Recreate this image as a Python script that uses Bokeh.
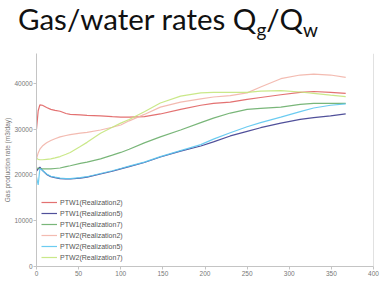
from bokeh.plotting import figure
from bokeh.models import Span, FixedTicker, Div
from bokeh.layouts import column
from bokeh.embed import file_html
from bokeh.resources import INLINE

days = [0, 2, 4, 7, 12, 17, 22, 28, 35, 40, 52, 60, 76, 90, 100, 110, 128, 147, 171, 195, 210, 230, 250, 266, 290, 313, 329, 349, 367]

ptw1_r2 = [30000, 34000, 35300, 35200, 34700, 34300, 34100, 33900, 33400, 33200, 33100, 33000, 32900, 32700, 32600, 32600, 32700, 33300, 34300, 35200, 35600, 35900, 36500, 36900, 37500, 38000, 38200, 38000, 37800]
ptw1_r5 = [20800, 21300, 21700, 21000, 20100, 19600, 19400, 19200, 19100, 19100, 19300, 19500, 20200, 20800, 21300, 21800, 22700, 23900, 25200, 26300, 27200, 28500, 29500, 30300, 31300, 32100, 32500, 32900, 33300]
ptw1_r7 = [21400, 21500, 21400, 21300, 21300, 21300, 21400, 21500, 21800, 22000, 22500, 22800, 23500, 24300, 24900, 25600, 27000, 28300, 29800, 31400, 32400, 33500, 34300, 34500, 34800, 35400, 35600, 35600, 35600]
ptw2_r2 = [23500, 24800, 25600, 26300, 27000, 27500, 27900, 28300, 28600, 28800, 29100, 29300, 29800, 30400, 30900, 31800, 33200, 34800, 35900, 36600, 37000, 37300, 37900, 39200, 41000, 41800, 42000, 41800, 41300]
ptw2_r5 = [19500, 17800, 21400, 21000, 20200, 19700, 19500, 19300, 19200, 19200, 19400, 19600, 20300, 20900, 21400, 21900, 22800, 24000, 25300, 26600, 27800, 29200, 30500, 31400, 32600, 33800, 34600, 35200, 35500]
ptw2_r7 = [23600, 23400, 23300, 23300, 23400, 23500, 23700, 24000, 24500, 24900, 26200, 27100, 29100, 30400, 31300, 32100, 33800, 35700, 37200, 37900, 38000, 38000, 38000, 38300, 38400, 38100, 37800, 37400, 37100]

series_names = ["PTW1(Realization2)", "PTW1(Realization5)", "PTW1(Realization7)",
                "PTW2(Realization2)", "PTW2(Realization5)", "PTW2(Realization7)"]
series_values = [ptw1_r2, ptw1_r5, ptw1_r7, ptw2_r2, ptw2_r5, ptw2_r7]
series_colors = ["#e06262", "#3d3d8f", "#6aae6a", "#f2b4a8", "#5cc6ef", "#c4e67c"]

x_ticks = [0, 50, 100, 150, 200, 250, 300, 350, 400]
y_ticks = [0, 10000, 20000, 30000, 40000]

title_html = ('<div style="font-family: Lato; font-size: 29.5px; color: #111111; '
              'line-height: 29px; padding: 4px 0 0 18px; white-space: nowrap;">'
              'Gas/water rates Q<span style="font-size: 19px; position: relative; top: 7px;">g</span>'
              '/Q<span style="font-size: 19px; position: relative; top: 7px;">w</span></div>')
title_div = Div(text=title_html, width=380, height=45, margin=(0, 0, 0, 0))

p = figure(width=380, height=237, x_range=(0, 400), y_range=(0, 46500),
           output_backend="svg", toolbar_location=None,
           min_border_left=36, min_border_right=7, min_border_top=8, min_border_bottom=16,
           margin=(0, 0, 0, 0))
p.outline_line_color = None
p.grid.visible = False
p.background_fill_color = "white"
p.border_fill_color = "white"

for name, vals, col in zip(series_names, series_values, series_colors):
    p.line(days, vals, line_color=col, line_width=1.2, line_alpha=0.9, legend_label=name)

for ax in (p.xaxis[0], p.yaxis[0]):
    ax.axis_line_color = "#c4c4c4"
    ax.major_tick_line_color = "#c4c4c4"
    ax.minor_tick_line_color = None
    ax.major_tick_in = 0
    ax.major_tick_out = 3
    ax.major_label_text_color = "#777777"
    ax.major_label_text_font = "Liberation Sans"
    ax.major_label_text_font_size = "6.5px"
    ax.major_label_standoff = 1

p.xaxis.ticker = FixedTicker(ticks=x_ticks)
p.yaxis.ticker = FixedTicker(ticks=y_ticks)
p.yaxis.axis_label = "Gas production rate (m3/day)"
p.yaxis.axis_label_text_font = "Liberation Sans"
p.yaxis.axis_label_text_font_size = "6.5px"
p.yaxis.axis_label_text_font_style = "normal"
p.yaxis.axis_label_text_color = "#777777"
p.yaxis.axis_label_standoff = 0

p.add_layout(Span(location=p.x_range.end, dimension="height", line_color="#c4c4c4", line_width=1))

leg = p.legend[0]
leg.border_line_color = None
leg.background_fill_alpha = 0
leg.label_text_font = "Liberation Sans"
leg.label_text_font_size = "7px"
leg.label_text_color = "#555555"
leg.glyph_width = 16
leg.glyph_height = 8
leg.label_height = 8
leg.spacing = 3
leg.padding = 3
leg.margin = 0
leg.label_standoff = 3
leg.location = (5, 5)

layout = column(title_div, p, spacing=0, margin=(0, 0, 0, 0))

open("out.html", "w").write(file_html(layout, INLINE))
